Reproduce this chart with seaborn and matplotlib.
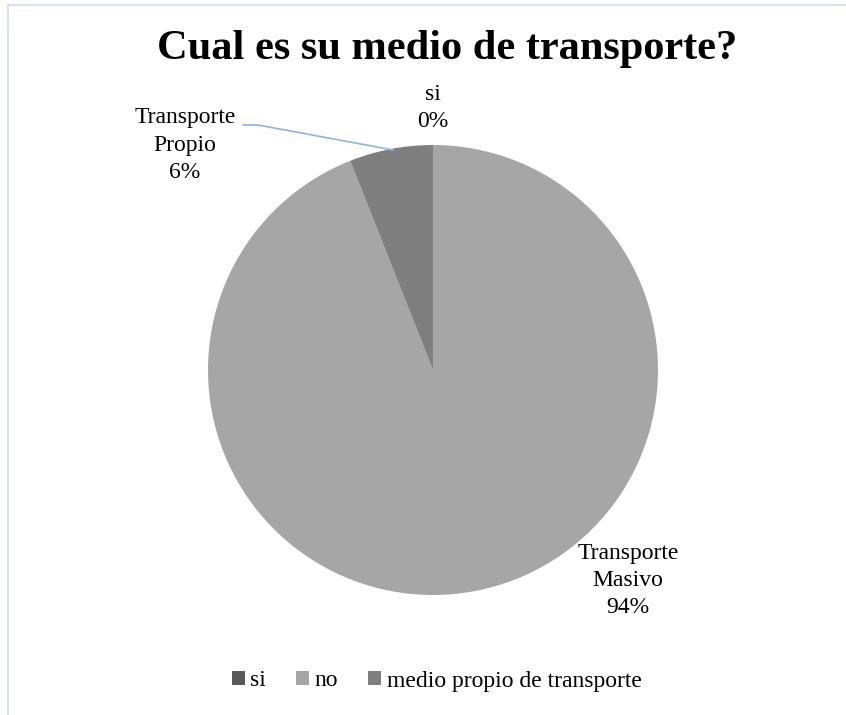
import matplotlib.pyplot as plt
import seaborn as sns
from matplotlib.patches import Patch, Rectangle

# data
categories = ["si", "no", "medio propio de transporte"]
values = [0, 94, 6]
slice_labels = ["si\n0%", "Transporte\nMasivo\n94%", "Transporte\nPropio\n6%"]
colors = ["#595959", "#a6a6a6", "#7f7f7f"]

sns.set_theme(style="white")
plt.rcParams["font.family"] = ["Liberation Serif", "DejaVu Serif"]
plt.rcParams["text.color"] = "black"

fig = plt.figure(figsize=(8.46, 7.15), dpi=100)
ax = fig.add_axes([208 / 846, 120 / 715, 450 / 846, 450 / 715])

wedges, _ = ax.pie(values, colors=colors, startangle=90, counterclock=False,
                   radius=1, wedgeprops=dict(linewidth=0))
ax.set_xlim(-1, 1)
ax.set_ylim(-1, 1)
ax.set_aspect("equal")
ax.axis("off")

# data labels, placed like the original
label_pos = [(0.0, 1.165), (0.867, -0.935), (-1.102, 1.0)]
for text, (x, y) in zip(slice_labels, label_pos):
    ax.text(x, y, text, ha="center", va="center", fontsize=17,
            linespacing=1.38, color="black")

# leader line for "Transporte Propio"
ax.plot([-0.844, -0.778, -0.178], [1.089, 1.089, 0.978], color="#8eb4e3",
        lw=1.2, clip_on=False)

fig.suptitle("Cual es su medio de transporte?", x=0.528, y=0.958,
             fontsize=30.5, fontweight="bold", va="top", color="black")

handles = [Patch(facecolor=c, edgecolor="none") for c in colors]
fig.legend(handles, categories, loc="center", bbox_to_anchor=(0.516, 1 - 681 / 715),
           ncol=3, frameon=False, fontsize=17, handlelength=0.55, handleheight=0.55,
           handletextpad=0.25, columnspacing=1.25, labelcolor="black")

# light chart border (top and left edge visible)
fig.add_artist(Rectangle((8 / 846, -0.1), 1.2, 1.1 - 5 / 715, transform=fig.transFigure,
                         fill=False, edgecolor="#d6e2f1", lw=1.5))

fig.savefig("out.png", dpi=100)
